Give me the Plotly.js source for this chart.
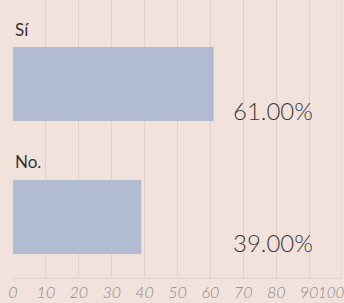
<!DOCTYPE html>
<html><head><meta charset="utf-8">
<script src="https://cdn.plot.ly/plotly-3.0.1.min.js"></script>
<style>html,body{margin:0;padding:0;background:#f2e2dc;}</style>
</head><body><div id="chart" style="width:344px;height:303px;"></div>
<script>
var categories = ["No.", "Sí"];
var values = [39, 61];
var tickVals = [0,10,20,30,40,50,60,70,80,90,100];

var trace = {
  type: 'bar', orientation: 'h',
  y: categories, x: values,
  width: 0.556,
  marker: {color: '#b1bbd1', line: {width: 0}},
  hoverinfo: 'none'
};
var tickFont = {family:'Lato, sans-serif', size:16, color:'#8a8a8a', style:'italic', weight:300};
var anns = [];
categories.forEach(function(c, i){
  anns.push({xref:'paper', x:0, xanchor:'left', yref:'y', y:c, yshift:55,
    text:c, showarrow:false, font:{family:'Lato, sans-serif', size:17, color:'#333', weight:400}});
  anns.push({xref:'x', x:79, xanchor:'center', yref:'y', y:c, yshift:-26,
    text: values[i].toFixed(2) + '%', showarrow:false,
    font:{family:'Lato, sans-serif', size:24, color:'#3a3a3a', weight:300}});
});
var lastTick = tickVals[tickVals.length - 1];
anns.push({xref:'x', x:lastTick, xanchor:'right', xshift:3, yref:'paper', y:0, yanchor:'top', yshift:-4,
  borderpad:0, text:String(lastTick), showarrow:false,
  font:{family:'Lato, sans-serif', size:15, color:'#8a8a8a', style:'italic', weight:300}});
var shownTicks = tickVals.slice(0, -1);
var layout = {
  width:344, height:303,
  margin:{l:13, r:2, t:0, b:25},
  paper_bgcolor:'#f2e2dc', plot_bgcolor:'#f2e2dc',
  showlegend:false,
  xaxis:{range:[0,100], tickvals:shownTicks, ticktext:shownTicks.map(String),
    showgrid:true, gridcolor:'#e3d0ca', gridwidth:1, zeroline:false,
    showline:true, linecolor:'#e3d0ca', ticks:'', mirror:false,
    tickfont:tickFont},
  yaxis:{type:'category', range:[-0.459, 1.632], showticklabels:false,
    showgrid:false, zeroline:false, ticks:''},
  shapes:[{type:'line', xref:'x', x0:100, x1:100, yref:'paper', y0:0, y1:1,
    line:{color:'#e3d0ca', width:1}}],
  annotations: anns
};
Plotly.newPlot('chart', [trace], layout, {displayModeBar:false, staticPlot:true});
</script></body></html>
